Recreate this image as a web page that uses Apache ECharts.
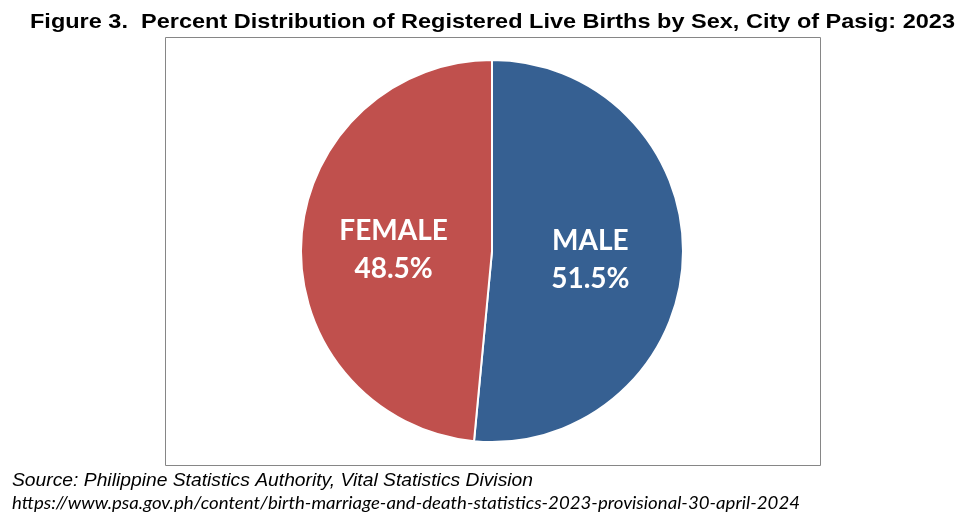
<!DOCTYPE html>
<html><head><meta charset="utf-8">
<script src="https://cdn.jsdelivr.net/npm/echarts@6/dist/echarts.min.js"></script>
<style>html,body{margin:0;padding:0;background:#fff}#c{width:978px;height:526px}</style>
</head><body><div id="c"></div>
<script>
const categories = ['MALE', 'FEMALE'];
const values = [51.5, 48.5];
const colors = ['#366092', '#C0504D'];
const titleText = 'Figure 3.  Percent Distribution of Registered Live Births by Sex, City of Pasig: 2023';
const sourceText = 'Source: Philippine Statistics Authority, Vital Statistics Division';
const urlText = 'https://www.psa.gov.ph/content/birth-marriage-and-death-statistics-2023-provisional-30-april-2024';

const ctx = document.createElement('canvas').getContext('2d');
function fitText(text, font, x, y, targetWidth) {
  ctx.font = font;
  const w = ctx.measureText(text).width;
  return {
    type: 'text', x: x, y: y, scaleX: targetWidth / w, scaleY: 1,
    style: { text: text, font: font, fill: '#000', textAlign: 'left', textVerticalAlign: 'middle' }
  };
}

const chart = echarts.init(document.getElementById('c'));
chart.setOption({
  animation: false,
  graphic: [
    { type: 'rect', shape: { x: 165.5, y: 37.5, width: 655, height: 428 },
      style: { fill: 'none', stroke: '#868686', lineWidth: 1 } },
    fitText(titleText, 'bold 21px "Liberation Sans"', 30, 22, 925),
    fitText(sourceText, 'italic 19px "Liberation Sans"', 12, 480.5, 521),
    fitText(urlText, 'italic 17px Lato', 12, 504, 788)
  ],
  series: [{
    type: 'pie',
    center: [492, 251],
    radius: [0, 191],
    startAngle: 90,
    clockwise: true,
    data: categories.map((c, i) => ({ name: c, value: values[i], itemStyle: { color: colors[i] } })),
    itemStyle: { borderColor: '#fff', borderWidth: 2 },
    label: {
      position: 'inside',
      formatter: p => p.name + '\n' + p.value.toFixed(1) + '%',
      color: '#fff',
      fontFamily: 'Lato',
      fontWeight: 'bold',
      fontSize: 28,
      lineHeight: 38,
      offset: [0, 4]
    },
    labelLine: { show: false },
    emphasis: { disabled: true }
  }]
});
</script></body></html>
